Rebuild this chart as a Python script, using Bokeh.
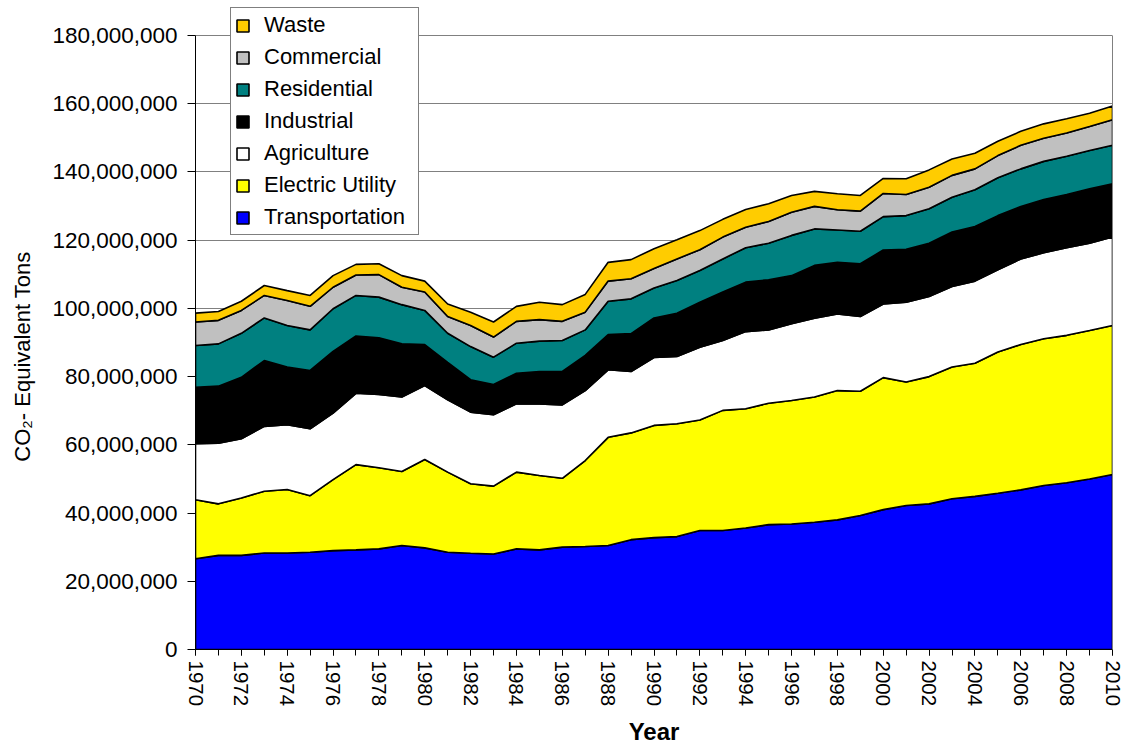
import math
import numpy as np
from bokeh.plotting import figure
from bokeh.models import FixedTicker, NumeralTickFormatter, Legend, LegendItem, Range1d, LinearAxis
from bokeh.embed import file_html
from bokeh.resources import INLINE

# Values in million tons CO2-equivalent
years = list(range(1970, 2011))
transportation = [26.6, 27.6, 27.6, 28.3, 28.3, 28.5, 29.0, 29.2, 29.5, 30.5,
                  29.8, 28.5, 28.2, 28.0, 29.5, 29.2, 30.0, 30.2, 30.5, 32.2,
                  32.8, 33.1, 34.9, 34.9, 35.6, 36.6, 36.8, 37.3, 38.0, 39.3,
                  41.0, 42.2, 42.7, 44.2, 44.9, 45.8, 46.8, 48.1, 48.9, 50.0, 51.3]
electric_utility = [17.3, 15.1, 16.8, 18.1, 18.6, 16.6, 20.8, 25.0, 23.8, 21.7,
                    25.9, 23.5, 20.4, 19.9, 22.5, 21.8, 20.2, 25.2, 31.7, 31.3,
                    32.9, 33.1, 32.4, 35.2, 35.0, 35.6, 36.2, 36.7, 37.9, 36.4,
                    38.7, 36.2, 37.3, 38.6, 39.0, 41.4, 42.6, 43.0, 43.2, 43.5, 43.7]
agriculture = [16.4, 17.8, 17.4, 19.0, 19.0, 19.6, 19.5, 20.9, 21.5, 21.8,
               21.7, 21.2, 21.0, 20.9, 20.0, 21.0, 21.5, 20.5, 19.8, 18.0,
               19.9, 19.7, 21.3, 20.5, 22.6, 21.5, 22.5, 23.1, 22.5, 21.9,
               21.6, 23.4, 23.5, 23.6, 24.1, 24.1, 25.1, 25.2, 25.7, 25.6, 25.9]
industrial = [16.6, 16.7, 18.0, 19.3, 16.9, 17.1, 18.1, 16.8, 16.6, 15.6,
              12.0, 11.0, 9.5, 8.9, 9.0, 9.5, 9.8, 10.3, 10.3, 11.1,
              11.6, 12.7, 13.2, 14.2, 14.5, 14.7, 14.1, 15.5, 15.1, 15.5,
              15.8, 15.5, 15.6, 16.0, 16.0, 15.9, 15.4, 15.6, 15.6, 16.0, 15.6]
residential = [12.2, 12.4, 12.9, 12.5, 12.2, 11.9, 12.5, 11.9, 11.9, 11.5,
               10.0, 8.5, 9.7, 8.0, 8.8, 8.9, 9.1, 7.5, 9.8, 10.2,
               8.8, 9.6, 9.3, 9.7, 10.1, 10.7, 11.8, 10.7, 9.5, 9.5,
               9.8, 9.9, 10.1, 10.2, 10.8, 11.1, 11.0, 11.2, 11.2, 11.2, 11.3]
commercial = [6.9, 6.9, 6.7, 6.6, 7.3, 6.9, 6.3, 6.0, 6.6, 5.1,
              5.4, 4.9, 6.2, 5.9, 6.4, 6.3, 5.6, 5.2, 5.9, 5.9,
              5.7, 6.3, 6.1, 6.4, 6.0, 6.4, 6.8, 6.6, 5.9, 5.9,
              6.8, 6.2, 6.3, 6.4, 6.1, 6.5, 6.9, 6.8, 6.8, 7.0, 7.5]
waste = [2.6, 2.6, 2.7, 2.9, 2.9, 3.2, 3.4, 3.1, 3.2, 3.4,
         3.2, 3.7, 3.9, 4.4, 4.4, 5.1, 4.9, 5.2, 5.5, 5.6,
         5.8, 5.6, 5.6, 5.2, 5.2, 5.2, 4.9, 4.4, 4.7, 4.6,
         4.4, 4.6, 5.1, 4.8, 4.6, 4.2, 4.1, 4.2, 4.2, 3.9, 4.0]

series_names = ["Transportation", "Electric Utility", "Agriculture", "Industrial",
                "Residential", "Commercial", "Waste"]
series_values = [transportation, electric_utility, agriculture, industrial,
                 residential, commercial, waste]
series_colors = ["#0000FF", "#FFFF00", "#FFFFFF", "#000000", "#008080", "#C0C0C0", "#FFCC00"]

x_ticks_major = list(range(1970, 2011, 2))
y_ticks = list(range(0, 180000001, 20000000))
Y_AXIS_MAX = 180000000
# frame extends above the axis top so the legend (which overlaps the top) is not clipped
FRAME_TOP = 2
FRAME_BOTTOM = 649
AXIS_TOP_PX = 35
y_frame_max = Y_AXIS_MAX * (FRAME_BOTTOM - FRAME_TOP) / (FRAME_BOTTOM - AXIS_TOP_PX)

FONT = "Liberation Sans"

p = figure(width=1122, height=749, output_backend="svg", toolbar_location=None,
           x_range=Range1d(1970, 2010), y_range=Range1d(0, y_frame_max),
           min_border_left=195, min_border_right=10, min_border_top=FRAME_TOP,
           min_border_bottom=749 - FRAME_BOTTOM)

p.background_fill_color = "white"
p.border_fill_color = "white"
p.outline_line_color = None

xs = years + years[::-1]
bottom = np.zeros(len(years))
renderers = []
for name, vals, col in zip(series_names, series_values, series_colors):
    top = bottom + np.array(vals) * 1e6
    ys = list(top) + list(bottom[::-1])
    r = p.patch(x=xs, y=ys, fill_color=col, line_color="black", line_width=1.6)
    renderers.append((name, r))
    bottom = top

# grid
p.xgrid.visible = False
p.ygrid.grid_line_color = "#808080"
p.ygrid.grid_line_width = 1
p.ygrid.ticker = FixedTicker(ticks=y_ticks)

# x axis
p.xaxis.ticker = FixedTicker(ticks=x_ticks_major, minor_ticks=years)
p.xaxis.major_label_orientation = -math.pi / 2
p.xaxis.major_tick_in = 0
p.xaxis.major_tick_out = 6
p.xaxis.minor_tick_in = 0
p.xaxis.minor_tick_out = 6
p.xaxis.major_label_standoff = 5
p.xaxis.major_label_text_font = FONT
p.xaxis.major_label_text_font_size = "20.5px"
p.xaxis.major_label_text_color = "black"
p.xaxis.axis_label = "Year"
p.xaxis.axis_label_text_font = FONT
p.xaxis.axis_label_text_font_size = "24px"
p.xaxis.axis_label_text_font_style = "bold"
p.xaxis.axis_label_text_color = "black"
p.xaxis.axis_label_standoff = 9
p.xaxis.axis_line_color = "black"

# y axis
p.yaxis.ticker = FixedTicker(ticks=y_ticks)
p.yaxis.bounds = (0, Y_AXIS_MAX)
p.yaxis.formatter = NumeralTickFormatter(format="0,0")
p.yaxis.major_tick_in = 0
p.yaxis.major_tick_out = 8
p.yaxis.minor_tick_out = 0
p.yaxis.minor_tick_in = 0
p.yaxis.major_label_standoff = 10
p.yaxis.major_label_text_font = FONT
p.yaxis.major_label_text_font_size = "22.5px"
p.yaxis.major_label_text_color = "black"
# trailing no-break spaces move the rotated label down to the middle of the 0-180M axis
p.yaxis.axis_label = "CO\u2082- Equivalent Tons" + "\u00a0" * 10
p.yaxis.axis_label_text_font = FONT
p.yaxis.axis_label_text_font_size = "22px"
p.yaxis.axis_label_text_font_style = "normal"
p.yaxis.axis_label_text_color = "black"
p.yaxis.axis_label_standoff = 14
p.yaxis.axis_line_color = "black"

# right border of the plot area (gray), only up to the axis top
right_axis = LinearAxis(bounds=(0, Y_AXIS_MAX),
                        ticker=FixedTicker(ticks=[]), axis_line_color="#808080",
                        major_tick_line_color=None, minor_tick_line_color=None,
                        major_label_text_font_size="0px")
p.add_layout(right_axis, "right")

items = [LegendItem(label=name, renderers=[r]) for name, r in renderers[::-1]]
legend = Legend(items=items, location=(35, 414), orientation="vertical")
legend.label_text_font = FONT
legend.label_text_font_size = "22px"
legend.label_text_color = "black"
legend.glyph_width = 15
legend.glyph_height = 15
legend.label_height = 20
legend.label_standoff = 14
legend.label_width = 150
legend.spacing = 6
legend.padding = 4
legend.margin = 0
legend.border_line_color = "black"
legend.border_line_width = 1
legend.background_fill_color = "white"
legend.background_fill_alpha = 1.0
p.add_layout(legend, "center")

open("out.html", "w").write(file_html(p, INLINE))
